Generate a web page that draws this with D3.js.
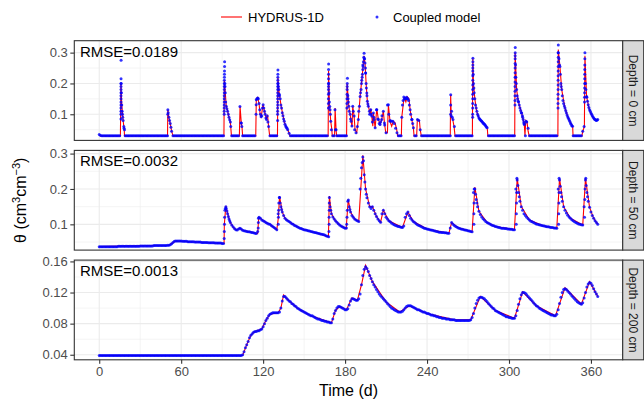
<!DOCTYPE html>
<html><head><meta charset="utf-8">
<script src="https://cdn.jsdelivr.net/npm/d3@7"></script>
<style>body{margin:0;background:#fff}svg{display:block;font-family:"Liberation Sans",Arial,sans-serif}</style>
</head><body><svg id="c" width="644" height="402"></svg>
<script>
// ---------------- DATA ----------------
const depthLabels = ["Depth = 0 cm", "Depth = 50 cm", "Depth = 200 cm"];
const rmseLabels = ["RMSE=0.0189", "RMSE=0.0032", "RMSE=0.0013"];
const seriesNames = ["HYDRUS-1D", "Coupled model"];
const xTicks = [0, 60, 120, 180, 240, 300, 360];
const yTicks0 = [0.1, 0.2, 0.3];
const yTicks50 = [0.1, 0.2, 0.3];
const yTicks200 = [0.04, 0.08, 0.12, 0.16];

// Coupled model, daily values (index = day 0..365)
const coupled0 = [
0.034,0.031,0.03,0.03,0.03,0.03,0.03,0.03,0.03,0.03,
0.03,0.03,0.03,0.03,0.03,0.03,0.2,0.1,0.06,0.03,
0.03,0.03,0.03,0.03,0.03,0.03,0.03,0.03,0.03,0.03,
0.03,0.03,0.03,0.03,0.03,0.03,0.03,0.03,0.03,0.03,
0.03,0.03,0.03,0.03,0.03,0.03,0.03,0.03,0.03,0.03,
0.03,0.09,0.07,0.045,0.03,0.03,0.03,0.03,0.03,0.03,
0.03,0.03,0.03,0.03,0.03,0.03,0.03,0.03,0.03,0.03,
0.03,0.03,0.03,0.03,0.03,0.03,0.03,0.03,0.03,0.03,
0.03,0.03,0.03,0.03,0.03,0.03,0.03,0.03,0.03,0.03,
0.03,0.03,0.2,0.126,0.11,0.09,0.075,0.03,0.03,0.03,
0.03,0.03,0.03,0.125,0.072,0.03,0.03,0.03,0.03,0.03,
0.03,0.03,0.03,0.03,0.03,0.147,0.153,0.135,0.1,0.095,
0.131,0.11,0.088,0.094,0.06,0.03,0.03,0.03,0.03,0.03,
0.03,0.2,0.16,0.13,0.105,0.085,0.068,0.058,0.05,0.038,
0.03,0.03,0.03,0.03,0.03,0.03,0.03,0.03,0.03,0.03,
0.03,0.03,0.03,0.03,0.03,0.03,0.03,0.03,0.03,0.03,
0.03,0.03,0.03,0.03,0.03,0.03,0.03,0.03,0.2,0.115,
0.05,0.03,0.03,0.05,0.03,0.03,0.03,0.03,0.03,0.03,
0.03,0.03,0.16,0.11,0.085,0.062,0.11,0.05,0.04,0.06,
0.11,0.158,0.2,0.26,0.28,0.234,0.16,0.126,0.1,0.1,
0.075,0.09,0.056,0.115,0.085,0.07,0.075,0.095,0.11,0.065,
0.04,0.13,0.1,0.08,0.077,0.077,0.07,0.055,0.04,0.03,
0.03,0.03,0.13,0.156,0.15,0.155,0.15,0.13,0.1,0.083,
0.056,0.03,0.03,0.083,0.08,0.05,0.03,0.03,0.03,0.03,
0.03,0.03,0.03,0.03,0.03,0.03,0.03,0.03,0.03,0.03,
0.03,0.03,0.03,0.03,0.03,0.03,0.03,0.03,0.11,0.083,
0.06,0.03,0.03,0.03,0.03,0.03,0.03,0.03,0.03,0.03,
0.03,0.03,0.03,0.03,0.2,0.15,0.12,0.1,0.088,0.082,
0.077,0.072,0.068,0.062,0.056,0.03,0.03,0.03,0.03,0.03,
0.03,0.03,0.03,0.03,0.03,0.03,0.03,0.03,0.03,0.03,
0.03,0.03,0.03,0.03,0.03,0.22,0.16,0.14,0.12,0.105,
0.09,0.07,0.03,0.075,0.055,0.03,0.03,0.03,0.03,0.03,
0.03,0.03,0.03,0.03,0.03,0.03,0.03,0.03,0.03,0.03,
0.03,0.03,0.03,0.03,0.03,0.03,0.3,0.26,0.2,0.16,
0.135,0.12,0.105,0.092,0.082,0.072,0.063,0.03,0.03,0.03,
0.03,0.03,0.03,0.03,0.045,0.06,0.2,0.155,0.131,0.115,
0.104,0.095,0.088,0.083,0.08,0.083];
// Coupled model, sub-daily output during rain events [day, theta]
const coupled0Sub = [
[15.9,0.085],[15.9,0.1],[15.9,0.11],[15.9,0.12],[15.92,0.13],[15.92,0.14],[15.93,0.15],[15.93,0.16],[15.95,0.17],[15.95,0.18],[15.96,0.19],[15.97,0.2],[15.97,0.215],[16,0.275],[16.2,0.17],[16.5,0.13],[16.8,0.11],[17.2,0.09],[17.5,0.08],[18.2,0.055],[18.5,0.05],
[50.2,0.1],[50.25,0.115],[50.5,0.105],[51.5,0.08],[52.5,0.058],
[91.5,0.1],[91.5,0.11],[91.5,0.12],[91.52,0.13],[91.55,0.14],[91.55,0.15],[91.55,0.16],[91.58,0.17],[91.6,0.18],[91.6,0.19],[91.6,0.2],[91.62,0.21],[91.65,0.22],[91.68,0.23],[91.7,0.24],[91.75,0.255],[91.8,0.27],[92.1,0.19],[92.3,0.17],[92.6,0.14],[93.5,0.118],[94.5,0.1],[95.5,0.082],[96.3,0.06],
[103.9,0.072],[104.4,0.06],
[114.8,0.1],[114.9,0.131],[115.5,0.15],[116.5,0.15],[117.5,0.115],[118.5,0.092],[119.5,0.12],[120.5,0.12],[121.5,0.1],[122.5,0.083],[123.5,0.075],
[130.6,0.08],[130.6,0.1],[130.6,0.11],[130.62,0.12],[130.65,0.13],[130.65,0.14],[130.65,0.15],[130.68,0.16],[130.7,0.17],[130.7,0.18],[130.7,0.19],[130.72,0.2],[130.75,0.21],[130.78,0.22],[130.8,0.23],[130.85,0.244],[131.2,0.19],[131.5,0.18],[131.8,0.165],[132.5,0.15],[133.5,0.12],[134.5,0.095],[135.5,0.077],[136.5,0.062],[137.5,0.055],
[167.8,0.12],[167.8,0.135],[167.8,0.15],[167.82,0.165],[167.85,0.18],[167.85,0.19],[167.85,0.2],[167.88,0.215],[167.9,0.23],[167.92,0.245],[167.95,0.263],[168.2,0.17],[168.5,0.14],[168.8,0.125],[169.2,0.1],[169.5,0.077],[172.6,0.115],[173.4,0.05],
[181.3,0.12],[181.35,0.135],[181.4,0.15],[181.45,0.165],[181.5,0.18],[181.55,0.19],[181.6,0.2],[181.7,0.217],[182.2,0.15],[182.4,0.14],[182.7,0.126],[183.7,0.1],[184.4,0.077],[185.6,0.126],[186.6,0.094],
[189.7,0.083],[190.5,0.126],[191.3,0.17],[191.7,0.18],[192.2,0.21],[192.5,0.22],[192.7,0.23],[193,0.245],[193.2,0.255],[193.4,0.27],[193.7,0.285],[193.9,0.298],[194.3,0.28],[194.6,0.266],[194.9,0.25],[195.1,0.234],[195.4,0.2],[195.6,0.185],[195.9,0.169],[196.3,0.142],[196.7,0.133],[197.8,0.11],
[198.8,0.115],[199.5,0.094],[200.7,0.104],[201.2,0.083],[203.2,0.115],[204.4,0.083],[205.6,0.067],[206.8,0.083],[208.8,0.072],[211.7,0.131],[212.9,0.077],
[221.5,0.09],[222.5,0.145],[223.5,0.15],[224.5,0.152],[225.5,0.15],[226.5,0.145],[227.6,0.115],[228.8,0.083],[229.5,0.07],
[257.3,0.1],[257.3,0.13],[257.35,0.163],[257.7,0.094],[258.5,0.09],
[273.4,0.09],[273.4,0.1],[273.4,0.12],[273.42,0.135],[273.45,0.15],[273.45,0.165],[273.45,0.18],[273.48,0.195],[273.5,0.21],[273.5,0.225],[273.5,0.24],[273.52,0.25],[273.55,0.26],[273.58,0.27],[273.6,0.282],[273.8,0.23],[274.3,0.185],[274.5,0.17],[275.5,0.13],[276.5,0.11],[277.5,0.094],[278.5,0.085],[279.5,0.08],[280.5,0.075],[281.5,0.07],[282.5,0.065],[283.5,0.059],
[304.4,0.13],[304.4,0.145],[304.4,0.16],[304.42,0.175],[304.45,0.19],[304.45,0.205],[304.45,0.22],[304.48,0.235],[304.5,0.25],[304.5,0.265],[304.5,0.28],[304.52,0.29],[304.55,0.3],[304.6,0.317],[304.8,0.26],[305.3,0.2],[305.6,0.18],[306.3,0.15],[306.8,0.142],[307.5,0.13],[308.5,0.112],[309.3,0.104],[309.8,0.095],[310.4,0.083],[310.8,0.075],[311.2,0.067],[312.5,0.077],
[335.9,0.12],[335.9,0.135],[335.9,0.15],[335.92,0.165],[335.95,0.18],[335.95,0.195],[335.95,0.21],[335.98,0.225],[336,0.24],[336.02,0.255],[336.05,0.27],[336.07,0.285],[336.08,0.3],[336.1,0.325],[336.6,0.28],[337.3,0.255],[337.6,0.23],[338.2,0.19],[338.6,0.18],[339.5,0.145],[340.5,0.127],[341.5,0.112],[342.5,0.098],[343.5,0.087],[344.5,0.077],[345.5,0.068],[346.5,0.061],
[355.3,0.14],[355.32,0.155],[355.35,0.17],[355.38,0.185],[355.4,0.2],[355.42,0.215],[355.45,0.23],[355.48,0.245],[355.5,0.26],[355.55,0.28],[355.6,0.3],[356.3,0.18],[356.8,0.158],[357.5,0.142],[358.5,0.122],[359.5,0.11],[360.5,0.1],[361.5,0.091],[362.5,0.085],[363.5,0.081],[364.5,0.081]];
const hydrus0 = [
[0,0.034],[1,0.03],[15.5,0.03],[15.9,0.2],[16.5,0.13],[17.5,0.08],[18.3,0.05],[18.5,0.03],[50,0.03],[50.2,0.115],[51,0.09],[52,0.07],[53,0.045],[54,0.03],
[91.3,0.03],[91.6,0.21],[92.3,0.17],[93,0.126],[94,0.11],[95,0.09],[96,0.075],[96.8,0.03],[102.6,0.03],[103.1,0.126],[104,0.072],[104.5,0.06],[105,0.03],
[114.6,0.03],[115,0.15],[116,0.155],[117,0.135],[117.8,0.1],[118.6,0.092],[119.9,0.131],[121,0.11],[122.3,0.085],[123.3,0.095],[124,0.06],[124.8,0.03],
[130.5,0.03],[130.8,0.22],[131.7,0.17],[132.4,0.15],[133.2,0.126],[134.4,0.1],[135.4,0.077],[136.8,0.059],[138.5,0.045],[139.7,0.03],
[167.6,0.03],[167.9,0.24],[168.5,0.14],[169.5,0.077],[170.3,0.05],[170.6,0.03],[172.3,0.03],[172.7,0.12],[173.4,0.05],[173.8,0.03],
[181.1,0.03],[181.5,0.2],[182.7,0.126],[183.7,0.1],[184.4,0.077],[185.1,0.06],[185.6,0.126],[186.6,0.094],[187.3,0.05],[188.5,0.04],[189.7,0.083],[191,0.158],[192.2,0.21],[193.2,0.255],[193.9,0.29],[194.6,0.266],[195.4,0.2],[196.3,0.142],[197.1,0.126],[198.3,0.1],
[198.8,0.118],[199.5,0.094],[200.3,0.061],[200.7,0.104],[202,0.056],[203.2,0.118],[204.4,0.083],[205.6,0.067],[206.8,0.083],[208,0.11],[208.8,0.072],[209.8,0.04],[211,0.04],[211.7,0.131],[212.9,0.077],[214.1,0.061],[215.3,0.077],[216.6,0.072],[217.8,0.05],[218.5,0.03],
[221.2,0.03],[221.5,0.09],[223.2,0.156],[224.5,0.14],[225.5,0.157],[226.8,0.15],[227.6,0.115],[228.8,0.083],[230,0.056],[230.5,0.03],[232.4,0.03],[232.9,0.083],[234.4,0.08],[235,0.05],[235.8,0.03],
[257,0.03],[257.3,0.163],[257.7,0.094],[258.8,0.083],[259.8,0.06],[260.5,0.03],
[273.2,0.03],[273.5,0.282],[274,0.2],[275,0.15],[276.3,0.11],[278,0.088],[280,0.077],[282.4,0.067],[284.1,0.056],[284.5,0.03],
[304.2,0.03],[304.5,0.3],[305.6,0.18],[306.8,0.142],[309.3,0.104],[310.4,0.083],[311.2,0.067],[311.7,0.03],[312.3,0.08],[313.2,0.075],[314,0.045],[314.8,0.03],
[335.8,0.03],[336.1,0.31],[337.3,0.255],[338.6,0.18],[341,0.12],[343.4,0.088],[345.1,0.072],[346.6,0.061],[346.9,0.03],
[353.4,0.03],[354,0.045],[355.2,0.06],[355.6,0.29],[356.8,0.158],[358,0.131],[359.2,0.11],[361.7,0.088],[364.1,0.08],[365,0.083]];

const coupled50 = [
0.037,0.037,0.037,0.037,0.037,0.037,0.037,0.037,0.037,0.037,
0.037,0.037,0.037,0.037,0.038,0.038,0.038,0.038,0.038,0.038,
0.038,0.038,0.038,0.038,0.038,0.038,0.038,0.038,0.038,0.038,
0.039,0.039,0.039,0.039,0.039,0.039,0.039,0.039,0.039,0.039,
0.04,0.04,0.04,0.04,0.04,0.04,0.04,0.04,0.04,0.04,
0.041,0.041,0.042,0.045,0.049,0.052,0.053,0.053,0.053,0.053,
0.053,0.052,0.052,0.052,0.052,0.051,0.051,0.051,0.051,0.051,
0.05,0.05,0.05,0.05,0.05,0.049,0.049,0.049,0.049,0.049,
0.048,0.048,0.048,0.048,0.048,0.047,0.047,0.047,0.047,0.047,
0.046,0.046,0.14,0.145,0.13,0.115,0.105,0.098,0.093,0.088,
0.085,0.084,0.087,0.089,0.087,0.083,0.082,0.081,0.08,0.079,
0.079,0.078,0.077,0.076,0.075,0.074,0.08,0.12,0.117,0.112,
0.11,0.108,0.105,0.103,0.101,0.1,0.097,0.094,0.091,0.088,
0.085,0.13,0.176,0.15,0.135,0.125,0.117,0.113,0.11,0.108,
0.105,0.102,0.1,0.097,0.095,0.093,0.091,0.089,0.088,0.086,
0.085,0.084,0.083,0.082,0.081,0.08,0.079,0.078,0.077,0.076,
0.075,0.074,0.073,0.072,0.071,0.07,0.068,0.066,0.065,0.15,
0.13,0.121,0.115,0.11,0.106,0.102,0.098,0.095,0.093,0.091,
0.089,0.09,0.165,0.15,0.135,0.125,0.12,0.115,0.112,0.11,
0.108,0.2,0.26,0.29,0.24,0.2,0.175,0.16,0.15,0.145,
0.15,0.14,0.13,0.122,0.115,0.11,0.106,0.13,0.14,0.13,
0.12,0.115,0.11,0.107,0.104,0.101,0.099,0.097,0.095,0.094,
0.093,0.092,0.091,0.095,0.12,0.13,0.135,0.125,0.117,0.112,
0.108,0.105,0.102,0.099,0.097,0.095,0.093,0.091,0.089,0.088,
0.087,0.086,0.085,0.084,0.083,0.082,0.081,0.08,0.079,0.078,
0.078,0.077,0.077,0.076,0.076,0.075,0.075,0.09,0.105,0.1,
0.097,0.094,0.092,0.09,0.088,0.087,0.086,0.085,0.084,0.083,
0.082,0.081,0.08,0.079,0.19,0.2,0.17,0.15,0.137,0.128,
0.121,0.116,0.112,0.108,0.105,0.103,0.101,0.099,0.097,0.096,
0.094,0.093,0.092,0.091,0.09,0.089,0.089,0.088,0.088,0.087,
0.087,0.086,0.086,0.085,0.085,0.2,0.225,0.19,0.165,0.15,
0.14,0.13,0.125,0.12,0.116,0.112,0.109,0.107,0.105,0.103,
0.101,0.1,0.099,0.098,0.097,0.096,0.095,0.094,0.093,0.093,
0.092,0.091,0.091,0.09,0.09,0.089,0.2,0.225,0.19,0.165,
0.15,0.14,0.132,0.126,0.121,0.117,0.113,0.11,0.107,0.105,
0.103,0.101,0.1,0.099,0.098,0.15,0.225,0.19,0.165,0.148,
0.135,0.125,0.117,0.11,0.105,0.1];
const coupled50Sub = [
[91.5,0.06],[91.6,0.08],[91.7,0.1],[91.8,0.12],[92.3,0.145],[92.7,0.15],[93.5,0.138],[94.5,0.122],[95.5,0.11],
[116.4,0.09],[116.5,0.105],[116.6,0.117],
[131.1,0.1],[131.2,0.12],[131.3,0.14],[131.5,0.16],[131.9,0.176],[132.5,0.16],[133.5,0.142],
[168.2,0.08],[168.3,0.1],[168.3,0.12],[168.4,0.14],[168.4,0.16],[168.5,0.176],[169.5,0.14],
[181.2,0.1],[181.4,0.12],[181.6,0.14],[182.4,0.169],[183.5,0.142],
[191.5,0.23],[192.5,0.275],[193.5,0.28],[194.5,0.22],[195.5,0.185],
[274.3,0.1],[274.3,0.13],[274.4,0.16],[274.5,0.2],[275.5,0.185],[276.5,0.16],
[305.3,0.1],[305.4,0.13],[305.5,0.16],[305.6,0.19],[305.8,0.23],[306.5,0.21],[307.5,0.178],
[336.3,0.1],[336.4,0.13],[336.5,0.16],[336.6,0.19],[336.7,0.23],[337.5,0.208],[338.5,0.178],
[355.3,0.12],[355.5,0.17],[355.7,0.2],[356.2,0.23],[356.5,0.21],[357.5,0.178]];
const hydrus50 = [
[0,0.037],[51,0.041],[53,0.046],[56,0.053],[91.4,0.046],[91.6,0.1],[92.7,0.152],[94,0.13],[96,0.105],[98,0.093],[100,0.085],[101,0.084],[103,0.09],[105,0.083],[110,0.079],[116,0.074],[116.8,0.12],[118,0.117],[121,0.108],[125,0.1],[130,0.085],[131.2,0.12],[132,0.18],[134,0.135],[136,0.117],[140,0.105],[147,0.089],[155,0.08],[160,0.075],[167.8,0.065],[168.5,0.18],[170,0.13],[173,0.11],[177,0.095],[180.8,0.088],[182.3,0.17],[184,0.135],[187,0.115],[190,0.108],[193,0.295],[195,0.2],[198,0.15],[200,0.15],[203,0.122],[206,0.106],[208,0.14],[212,0.11],[222,0.091],[226,0.135],[230,0.108],[240,0.087],[256,0.075],[258,0.105],[263,0.09],[273,0.079],[275,0.205],[278,0.137],[284,0.105],[290,0.094],[304,0.085],[306,0.23],[309,0.15],[315,0.112],[325,0.096],[335,0.089],[337,0.23],[340,0.15],[345,0.117],[354,0.098],[356,0.23],[359,0.148],[362,0.117],[365,0.1]];

const coupled200 = [
0.039,0.039,0.039,0.039,0.039,0.039,0.039,0.039,0.039,0.039,
0.039,0.039,0.039,0.039,0.039,0.039,0.039,0.039,0.039,0.039,
0.039,0.039,0.039,0.039,0.039,0.039,0.039,0.039,0.039,0.039,
0.039,0.039,0.039,0.039,0.039,0.039,0.039,0.039,0.039,0.039,
0.039,0.039,0.039,0.039,0.039,0.039,0.039,0.039,0.039,0.039,
0.039,0.039,0.039,0.039,0.039,0.039,0.039,0.039,0.039,0.039,
0.039,0.039,0.039,0.039,0.039,0.039,0.039,0.039,0.039,0.039,
0.039,0.039,0.039,0.039,0.039,0.039,0.039,0.039,0.039,0.039,
0.039,0.039,0.039,0.039,0.039,0.039,0.039,0.039,0.039,0.039,
0.039,0.039,0.039,0.039,0.039,0.039,0.039,0.039,0.039,0.039,
0.039,0.039,0.039,0.039,0.039,0.04,0.044,0.049,0.053,0.057,
0.062,0.065,0.067,0.069,0.07,0.07,0.071,0.071,0.072,0.073,
0.076,0.08,0.084,0.087,0.09,0.092,0.093,0.094,0.094,0.094,
0.094,0.094,0.095,0.1,0.109,0.115,0.115,0.113,0.111,0.109,
0.108,0.106,0.105,0.103,0.102,0.1,0.099,0.098,0.097,0.096,
0.095,0.094,0.093,0.092,0.091,0.09,0.09,0.089,0.088,0.087,
0.086,0.086,0.085,0.084,0.084,0.083,0.083,0.082,0.082,0.081,
0.081,0.086,0.093,0.097,0.1,0.102,0.102,0.101,0.1,0.099,
0.098,0.098,0.099,0.104,0.109,0.112,0.112,0.111,0.11,0.11,
0.112,0.118,0.13,0.142,0.15,0.153,0.151,0.147,0.142,0.138,
0.134,0.13,0.127,0.124,0.121,0.118,0.116,0.114,0.112,0.11,
0.108,0.106,0.104,0.102,0.1,0.099,0.098,0.097,0.096,0.095,
0.095,0.095,0.096,0.098,0.1,0.102,0.103,0.103,0.103,0.102,
0.101,0.1,0.099,0.098,0.098,0.097,0.096,0.095,0.095,0.094,
0.093,0.093,0.092,0.091,0.091,0.09,0.09,0.089,0.089,0.088,
0.088,0.087,0.087,0.087,0.086,0.086,0.086,0.085,0.085,0.085,
0.085,0.084,0.084,0.084,0.084,0.084,0.084,0.084,0.084,0.084,
0.084,0.084,0.085,0.088,0.093,0.1,0.106,0.11,0.113,0.114,
0.114,0.113,0.112,0.11,0.108,0.106,0.104,0.102,0.1,0.099,
0.097,0.096,0.095,0.094,0.093,0.092,0.091,0.09,0.089,0.089,
0.088,0.088,0.087,0.087,0.087,0.09,0.097,0.105,0.112,0.117,
0.12,0.12,0.119,0.117,0.115,0.113,0.111,0.109,0.107,0.105,
0.103,0.102,0.1,0.099,0.098,0.097,0.096,0.095,0.094,0.093,
0.092,0.091,0.091,0.09,0.09,0.092,0.098,0.106,0.114,0.12,
0.124,0.125,0.124,0.122,0.12,0.118,0.116,0.114,0.112,0.11,
0.108,0.107,0.106,0.105,0.107,0.113,0.12,0.127,0.131,0.133,
0.132,0.129,0.125,0.121,0.118,0.115];
const coupled200Sub = [];
const hydrus200 = [
[0,0.039],[105,0.039],[108,0.053],[111,0.065],[114,0.07],[119,0.073],[122,0.084],[125,0.092],[131,0.094],[133,0.1],[135,0.117],[138,0.111],[145,0.1],[155,0.09],[170,0.081],[173,0.097],[176,0.102],[181,0.098],[185,0.113],[189,0.11],[192,0.13],[195,0.155],[200,0.134],[210,0.108],[220,0.095],[227,0.103],[240,0.093],[260,0.085],[272,0.085],[279,0.115],[290,0.097],[304,0.087],[310,0.121],[320,0.103],[334,0.09],[341,0.126],[353,0.105],[359,0.134],[365,0.115]];

// ---------------- LAYOUT ----------------
const W = 644, H = 402;
const L = 74.3, R = 622.7, stripW = 21;
const panelTops = [40.7, 150.4, 260.1], panelH = 99.7;
const yDomains = [[0.0152, 0.3387], [0.0272, 0.309], [0.0335, 0.1617]];
const tickFmt = [d3.format(".1f"), d3.format(".1f"), d3.format(".2f")];
const panels = [
  {coupled: coupled0, sub: coupled0Sub, hydrus: hydrus0, ticks: yTicks0, minor: [0.05, 0.15, 0.25]},
  {coupled: coupled50, sub: coupled50Sub, hydrus: hydrus50, ticks: yTicks50, minor: [0.05, 0.15, 0.25]},
  {coupled: coupled200, sub: coupled200Sub, hydrus: hydrus200, ticks: yTicks200, minor: [0.06, 0.1, 0.14]}
];
const xMinor = [30, 90, 150, 210, 270, 330];
const grey20 = "#333333", grey30 = "#4D4D4D", grid = "#EBEBEB";
const ptR = 1.5;

const svg = d3.select("#c");
svg.append("rect").attr("width", W).attr("height", H).attr("fill", "#fff");
const x = d3.scaleLinear().domain([-18.25, 383.25]).range([L, R]);

panels.forEach((p, i) => {
  const top = panelTops[i], bot = top + panelH;
  const y = d3.scaleLinear().domain(yDomains[i]).range([bot, top]);
  const g = svg.append("g");
  g.append("rect").attr("x", L).attr("y", top).attr("width", R - L).attr("height", panelH).attr("fill", "#fff");
  g.selectAll(".xm").data(xMinor).join("line").attr("x1", d => x(d)).attr("x2", d => x(d)).attr("y1", top).attr("y2", bot).attr("stroke", grid).attr("stroke-width", 0.55);
  g.selectAll(".ym").data(p.minor).join("line").attr("y1", d => y(d)).attr("y2", d => y(d)).attr("x1", L).attr("x2", R).attr("stroke", grid).attr("stroke-width", 0.55);
  g.selectAll(".xM").data(xTicks).join("line").attr("x1", d => x(d)).attr("x2", d => x(d)).attr("y1", top).attr("y2", bot).attr("stroke", grid).attr("stroke-width", 1.1);
  g.selectAll(".yM").data(p.ticks).join("line").attr("y1", d => y(d)).attr("y2", d => y(d)).attr("x1", L).attr("x2", R).attr("stroke", grid).attr("stroke-width", 1.1);

  const clipId = "clip" + i;
  svg.append("clipPath").attr("id", clipId).append("rect").attr("x", L).attr("y", top).attr("width", R - L).attr("height", panelH);
  const data = g.append("g").attr("clip-path", `url(#${clipId})`);
  const line = d3.line().x(d => x(d[0])).y(d => y(d[1]));
  data.append("path").datum(p.hydrus).attr("d", line).attr("fill", "none").attr("stroke", "#FF0000").attr("stroke-width", 1.1);
  const pts = p.coupled.map((v, k) => [k, v]).concat(p.sub);
  data.selectAll("circle").data(pts).join("circle").attr("cx", d => x(d[0])).attr("cy", d => y(d[1])).attr("r", ptR).attr("fill", "#0000FF").attr("fill-opacity", 0.8);

  g.append("rect").attr("x", L).attr("y", top).attr("width", R - L).attr("height", panelH).attr("fill", "none").attr("stroke", grey20).attr("stroke-width", 1.1);

  const ya = g.append("g").attr("transform", `translate(${L},0)`).call(d3.axisLeft(y).tickValues(p.ticks).tickFormat(tickFmt[i]).tickSize(4).tickPadding(2.5));
  ya.select(".domain").remove();
  ya.selectAll("line").attr("stroke", grey20).attr("stroke-width", 1.1);
  ya.selectAll("text").attr("fill", grey30).style("font-size", "13px").style("font-family", "Liberation Sans, Arial, sans-serif");

  g.append("text").attr("x", 80).attr("y", top + 15.8).text(rmseLabels[i]).attr("font-size", "15px").attr("fill", "#000");

  g.append("rect").attr("x", R).attr("y", top).attr("width", stripW).attr("height", panelH).attr("fill", "#D9D9D9").attr("stroke", grey20).attr("stroke-width", 1.1);
  g.append("text").attr("transform", `translate(${R + stripW / 2},${top + panelH / 2}) rotate(90)`).attr("text-anchor", "middle").attr("dy", "0.36em")
    .attr("font-size", "12px").attr("fill", "#1A1A1A").text(depthLabels[i]);

  if (i === 2) {
    const xa = g.append("g").attr("transform", `translate(0,${bot})`).call(d3.axisBottom(x).tickValues(xTicks).tickSize(4).tickPadding(2.5));
    xa.select(".domain").remove();
    xa.selectAll("line").attr("stroke", grey20).attr("stroke-width", 1.1);
    xa.selectAll("text").attr("fill", grey30).style("font-size", "13px").style("font-family", "Liberation Sans, Arial, sans-serif");
  }
});

svg.append("text").attr("x", (L + R) / 2).attr("y", 396).attr("text-anchor", "middle").attr("font-size", "16px").attr("fill", "#000").text("Time (d)");
const yt = svg.append("text").attr("transform", `translate(26,${(panelTops[0] + panelTops[2] + panelH) / 2}) rotate(-90)`).attr("text-anchor", "middle").attr("font-size", "16px").attr("fill", "#000");
yt.append("tspan").text("θ (cm");
yt.append("tspan").attr("dy", -6).attr("font-size", "11px").text("3");
yt.append("tspan").attr("dy", 6).text("cm");
yt.append("tspan").attr("dy", -6).attr("font-size", "11px").text("−3");
yt.append("tspan").attr("dy", 6).text(")");

const lg = svg.append("g");
lg.append("line").attr("x1", 221).attr("x2", 242).attr("y1", 17).attr("y2", 17).attr("stroke", "#FF0000").attr("stroke-width", 1.1);
lg.append("text").attr("x", 248).attr("y", 17).attr("dy", "0.36em").attr("font-size", "13px").attr("fill", "#000").text(seriesNames[0]);
lg.append("circle").attr("cx", 377).attr("cy", 17).attr("r", ptR).attr("fill", "#0000FF").attr("fill-opacity", 0.8);
lg.append("text").attr("x", 393).attr("y", 17).attr("dy", "0.36em").attr("font-size", "13px").attr("fill", "#000").text(seriesNames[1]);
</script></body></html>
